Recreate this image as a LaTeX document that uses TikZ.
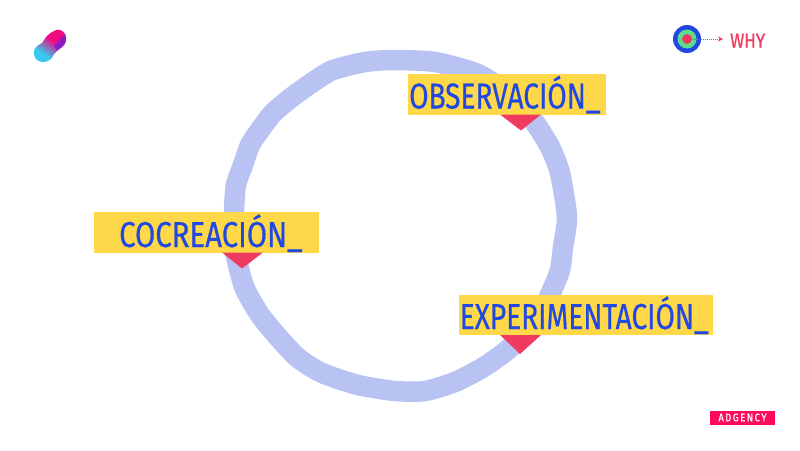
\documentclass[tikz,border=0pt]{standalone}
\usepackage{fontspec}
\usetikzlibrary{arrows.meta}
\newfontfamily\dinfont[FakeStretch=0.78,FakeBold=0.5]{Fira Sans}
\newfontfamily\dinwide[FakeStretch=0.815,FakeBold=0.5]{Fira Sans}
\newfontfamily\dinsmall[FakeStretch=0.85,FakeBold=0.8]{Fira Sans}
\definecolor{ringc}{HTML}{B9C3F3}
\definecolor{boxc}{HTML}{FFD84A}
\definecolor{inkc}{HTML}{2148E0}
\definecolor{redc}{HTML}{F03A60}
\definecolor{greenc}{HTML}{5FDC8C}
\definecolor{brandc}{HTML}{FF0A5A}
\definecolor{logocyan}{HTML}{38C8F0}
\definecolor{logopink}{HTML}{F00A80}
\definecolor{logoviolet}{HTML}{6A20D8}
\pgfdeclareverticalshading{logoshade}{100bp}{color(0bp)=(logocyan);color(40bp)=(logocyan);color(56bp)=(logopink);color(100bp)=(logopink)}
\tikzset{
  labelbox/.style={fill=boxc,draw=none,inner sep=0pt,anchor=north west},
  labeltext/.style={text=inkc,inner sep=0pt,anchor=base west},
  pointer/.style={fill=redc,draw=none},
  ring/.style={draw=ringc,line width=20.5pt,line join=round}
}
\begin{document}
\begin{tikzpicture}[x=1pt,y=-1pt]
\useasboundingbox (0,0) rectangle (800,450);
% ring
\draw[ring] plot[smooth cycle,tension=0.4] coordinates {
 (393,60) (365,62) (333,70) (313,82) (292,97) (273,113) (260,130) (250,145) (243,165) (236,185)
 (234,212) (235,250) (242,280) (247,293) (260,315) (278,337) (298,358) (322,373) (358,385) (395,391)
 (425,391) (455,382) (482,368) (505,352) (535,325) (550,295) (560,270) (563,247) (567,217) (560,173)
 (550,147) (533,120) (510,95) (478,74) (435,62)};
% boxes
\node[labelbox,minimum width=198pt,minimum height=41pt] (obsbox) at (408,74) {};
\node[labelbox,minimum width=225pt,minimum height=41pt] (cocbox) at (94,212) {};
\node[labelbox,minimum width=254pt,minimum height=40pt] (expbox) at (459,295) {};
% pointers
\fill[pointer] (500,114.5) -- (541,114.5) -- (521,130.5) -- cycle;
\fill[pointer] (222,252.5) -- (263,252.5) -- (242,268.5) -- cycle;
\fill[pointer] (500,335) -- (541,335) -- (520,354) -- cycle;
% labels
\node[labeltext,font=\dinfont\fontsize{36}{36}\selectfont] (obstext) at (409,108.5) {OBSERVACIÓN\_};
\node[labeltext,font=\dinwide\fontsize{36}{36}\selectfont] (coctext) at (119,247) {COCREACIÓN\_};
\node[labeltext,font=\dinfont\fontsize{36}{36}\selectfont] (exptext) at (459.5,329) {EXPERIMENTACIÓN\_};
% logo
\begin{scope}
\clip plot[smooth cycle,tension=0.75] coordinates {
 (56,30) (63,31.5) (66,38) (64,45) (58,50) (54,54) (51,59) (44,62) (37,60) (34,54) (36,47) (42,43) (47,36)};
\shade[shading=logoshade,shading angle=-35] (25,20) rectangle (75,72);
\fill[logoviolet,opacity=0.75] (66,33) -- (68,42) -- (58,52) -- (54,46) -- cycle;
\end{scope}
% target icon
\node[circle,fill=inkc,minimum size=28pt,inner sep=0pt] (tgtA) at (687,39) {};
\node[circle,fill=greenc,minimum size=19pt,inner sep=0pt] (tgtB) at (687,39) {};
\node[circle,fill=redc,minimum size=10pt,inner sep=0pt] (tgtC) at (687,39) {};
\node[labeltext,text=redc,font=\dinsmall\fontsize{20}{20}\selectfont] (why) at (730,47.5) {WHY};
\coordinate (whyend) at (723,39);
\draw[redc,densely dotted,line width=1pt,-{Stealth[length=5pt,width=5pt]}] (tgtC.center) -- (whyend);
% brand
\node[fill=brandc,text=white,minimum width=65pt,minimum height=14pt,inner sep=0pt,font=\dinsmall\fontsize{11}{11}\selectfont] (brand) at (742.5,417.5) {A\kern1.5pt D\kern1.5pt G\kern1.5pt E\kern1.5pt N\kern1.5pt C\kern1.5pt Y};
\end{tikzpicture}
\end{document}
